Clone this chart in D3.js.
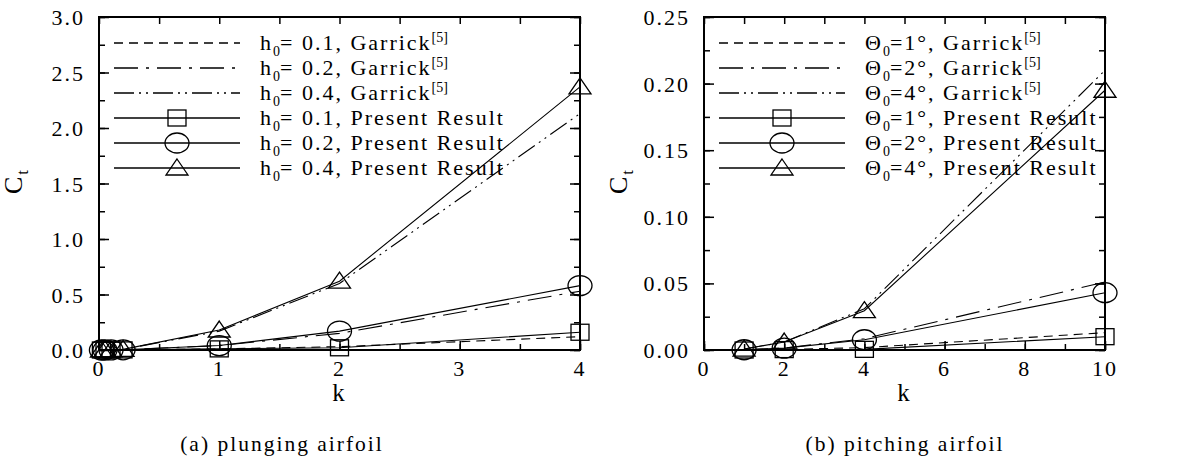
<!DOCTYPE html>
<html>
<head>
<meta charset="utf-8">
<script src="https://cdn.jsdelivr.net/npm/d3@7"></script>
<style>
  body { margin: 0; background: #fff; }
  svg { display: block; }
  text { font-family: 'Liberation Serif', serif; fill: #000; }
</style>
</head>
<body>
<svg id="chart" width="1201" height="465"></svg>
<script>
/*
 * Data: thrust coefficient Ct vs reduced frequency k
 */

// (a) plunging airfoil
var plungeK = [0.02, 0.05, 0.1, 0.2, 1, 2, 4];
var plungeGarrick01 = [0, 0, 0, 0.001, 0.01, 0.03, 0.12];
var plungeGarrick02 = [0, 0, 0.001, 0.002, 0.04, 0.15, 0.53];
var plungeGarrick04 = [0, 0.001, 0.002, 0.006, 0.17, 0.6, 2.13];
var plungePresent01 = [0, 0, 0, 0.001, 0.01, 0.02, 0.16];
var plungePresent02 = [0, 0, 0.001, 0.002, 0.04, 0.17, 0.58];
var plungePresent04 = [0, 0.001, 0.002, 0.006, 0.18, 0.62, 2.37];
var plungeXTicks = [0, 1, 2, 3, 4];
var plungeYTicks = [0, 0.5, 1.0, 1.5, 2.0, 2.5, 3.0];

// (b) pitching airfoil
var pitchK = [1, 2, 4, 10];
var pitchGarrick1 = [0, 0.0004, 0.0018, 0.013];
var pitchGarrick2 = [0.0002, 0.0015, 0.0085, 0.051];
var pitchGarrick4 = [0.0008, 0.006, 0.031, 0.21];
var pitchPresent1 = [0, 0.0003, 0.0005, 0.010];
var pitchPresent2 = [0.0002, 0.0014, 0.0077, 0.043];
var pitchPresent4 = [0.0007, 0.006, 0.0295, 0.195];
var pitchXTicks = [0, 2, 4, 6, 8, 10];
var pitchYTicks = [0, 0.05, 0.10, 0.15, 0.20, 0.25];

var dashGarrick = ['9,6', '24,8,3,8', '20,5,2,5,2,5'];
var legendA = [
    {sym: 'h', sub: '0', txt: '= 0.1, Garrick', sup: '[5]'},
    {sym: 'h', sub: '0', txt: '= 0.2, Garrick', sup: '[5]'},
    {sym: 'h', sub: '0', txt: '= 0.4, Garrick', sup: '[5]'},
    {sym: 'h', sub: '0', txt: '= 0.1, Present Result'},
    {sym: 'h', sub: '0', txt: '= 0.2, Present Result'},
    {sym: 'h', sub: '0', txt: '= 0.4, Present Result'}
];
var legendB = [
    {sym: '\u0398', sub: '0', txt: '=1\u00b0, Garrick', sup: '[5]'},
    {sym: '\u0398', sub: '0', txt: '=2\u00b0, Garrick', sup: '[5]'},
    {sym: '\u0398', sub: '0', txt: '=4\u00b0, Garrick', sup: '[5]'},
    {sym: '\u0398', sub: '0', txt: '=1\u00b0, Present Result'},
    {sym: '\u0398', sub: '0', txt: '=2\u00b0, Present Result'},
    {sym: '\u0398', sub: '0', txt: '=4\u00b0, Present Result'}
];

var svg = d3.select('#chart');
var fontMain = "font-family:'Liberation Serif';font-size:22px;letter-spacing:2px";
var fontSmall = "font-family:'Liberation Serif';font-size:14px;letter-spacing:0px";

/*
 * Markers
 */
function drawMarker(g, type, x, y) {
    if (type === 'square') {
        g.append('rect').attr('x', x - 9).attr('y', y - 8).attr('width', 18).attr('height', 16)
            .attr('fill', 'none').attr('stroke', '#000').attr('stroke-width', 1.3);
    } else if (type === 'circle') {
        g.append('ellipse').attr('cx', x).attr('cy', y).attr('rx', 12).attr('ry', 10)
            .attr('fill', 'none').attr('stroke', '#000').attr('stroke-width', 1.3);
    } else {
        g.append('path').attr('d', 'M' + x + ',' + (y - 9) + 'L' + (x + 11) + ',' + (y + 7) + 'L' + (x - 11) + ',' + (y + 7) + 'Z')
            .attr('fill', 'none').attr('stroke', '#000').attr('stroke-width', 1.3);
    }
}

/*
 * One panel
 */
function panel(opt) {
    var x = d3.scaleLinear().domain(opt.xDomain).range([opt.left, opt.right]);
    var y = d3.scaleLinear().domain(opt.yDomain).range([opt.bottom, opt.top]);
    var g = svg.append('g');

    // minor + major ticks, all inward
    var xMinor = d3.range(opt.xDomain[0], opt.xDomain[1] + 1e-9, opt.xMinor);
    var yMinor = d3.range(opt.yDomain[0], opt.yDomain[1] + 1e-9, opt.yMinor);

    function ticks(axis, vals, size) {
        return axis.tickValues(vals).tickSize(size).tickFormat('');
    }
    var tickG = g.append('g').attr('class', 'ticks');
    tickG.append('g').attr('transform', 'translate(0,' + opt.bottom + ')').call(ticks(d3.axisBottom(x), xMinor, -6));
    tickG.append('g').attr('transform', 'translate(0,' + opt.bottom + ')').call(ticks(d3.axisBottom(x), opt.xTicks, -9));
    tickG.append('g').attr('transform', 'translate(0,' + opt.top + ')').call(ticks(d3.axisTop(x), xMinor, -7));
    tickG.append('g').attr('transform', 'translate(' + opt.left + ',0)').call(ticks(d3.axisLeft(y), yMinor, -6));
    tickG.append('g').attr('transform', 'translate(' + opt.left + ',0)').call(ticks(d3.axisLeft(y), opt.yTicks, -10));
    tickG.append('g').attr('transform', 'translate(' + opt.right + ',0)').call(ticks(d3.axisRight(y), yMinor, -6));
    tickG.append('g').attr('transform', 'translate(' + opt.right + ',0)').call(ticks(d3.axisRight(y), opt.yTicks, -10));
    tickG.selectAll('.domain').remove();
    tickG.selectAll('line').attr('stroke', '#000').attr('stroke-width', 1.5);

    // tick labels
    g.selectAll('.xl').data(opt.xTicks).enter().append('text')
        .attr('x', function (d) { return x(d); }).attr('y', opt.bottom + 26)
        .attr('text-anchor', 'middle').attr('style', fontMain)
        .text(function (d) { return d; });
    g.selectAll('.yl').data(opt.yTicks).enter().append('text')
        .attr('x', opt.left - 14).attr('y', function (d) { return y(d) + 8; })
        .attr('text-anchor', 'end').attr('style', fontMain)
        .text(opt.yFormat);

    // frame
    g.append('rect').attr('x', opt.left).attr('y', opt.top)
        .attr('width', opt.right - opt.left).attr('height', opt.bottom - opt.top)
        .attr('fill', 'none').attr('stroke', '#000').attr('stroke-width', 2);

    // axis titles
    g.append('text').attr('x', (opt.left + opt.right) / 2).attr('y', opt.bottom + 51)
        .attr('text-anchor', 'middle').attr('style', fontMain.replace('22px', '25px')).text('k');
    var ct = g.append('text').attr('transform', 'translate(' + (opt.left - 77) + ',194) rotate(-90)')
        .attr('style', fontMain.replace('22px', '26px'));
    ct.append('tspan').text('C');
    ct.append('tspan').attr('dy', 6).attr('style', fontSmall.replace('14px', '17px')).text('t');

    g.append('text').attr('x', opt.captionX).attr('y', 451)
        .attr('text-anchor', 'middle').attr('style', fontMain.replace('2px', '1.5px')).text(opt.caption);

    // series
    var line = d3.line()
        .x(function (d) { return x(d[0]); })
        .y(function (d) { return y(d[1]); });
    var lineG = g.append('g');
    opt.garrick.forEach(function (vals, i) {
        lineG.append('path').datum(d3.zip(opt.k, vals)).attr('d', line)
            .attr('fill', 'none').attr('stroke', '#000').attr('stroke-width', 1.1)
            .attr('stroke-dasharray', dashGarrick[i]);
    });
    var markers = ['square', 'circle', 'triangle'];
    opt.present.forEach(function (vals, i) {
        var pts = d3.zip(opt.k, vals);
        lineG.append('path').datum(pts).attr('d', line)
            .attr('fill', 'none').attr('stroke', '#000').attr('stroke-width', 1.1);
        pts.forEach(function (p) { drawMarker(lineG, markers[i], x(p[0]), y(p[1])); });
    });

    // legend
    var leg = g.append('g');
    opt.legend.forEach(function (d, i) {
        var ly = 43 + i * 25;
        var l = leg.append('line').attr('x1', opt.left + 15).attr('x2', opt.left + 141)
            .attr('y1', ly).attr('y2', ly).attr('stroke', '#000').attr('stroke-width', 1.6);
        if (i < 3) l.attr('stroke-dasharray', dashGarrick[i]);
        else drawMarker(leg, markers[i - 3], opt.left + 78, ly);
        var t = leg.append('text').attr('x', opt.left + 161).attr('y', ly + 7).attr('style', fontMain);
        t.append('tspan').text(d.sym);
        t.append('tspan').attr('dy', 6).attr('style', fontSmall).text(d.sub);
        t.append('tspan').attr('dy', -6).text(d.txt);
        if (d.sup) t.append('tspan').attr('dy', -8).attr('style', fontSmall).text(d.sup);
    });
}

panel({
    left: 99, right: 580, top: 17, bottom: 350,
    xDomain: [0, 4], yDomain: [0, 3],
    xMinor: 0.5, yMinor: 0.25,
    xTicks: plungeXTicks, yTicks: plungeYTicks,
    yFormat: d3.format('.1f'),
    k: plungeK,
    garrick: [plungeGarrick01, plungeGarrick02, plungeGarrick04],
    present: [plungePresent01, plungePresent02, plungePresent04],
    legend: legendA,
    caption: '(a) plunging airfoil', captionX: 282
});

panel({
    left: 704, right: 1105, top: 17, bottom: 350,
    xDomain: [0, 10], yDomain: [0, 0.25],
    xMinor: 1, yMinor: 0.025,
    xTicks: pitchXTicks, yTicks: pitchYTicks,
    yFormat: d3.format('.2f'),
    k: pitchK,
    garrick: [pitchGarrick1, pitchGarrick2, pitchGarrick4],
    present: [pitchPresent1, pitchPresent2, pitchPresent4],
    legend: legendB,
    caption: '(b) pitching airfoil', captionX: 905
});
</script>
</body>
</html>
